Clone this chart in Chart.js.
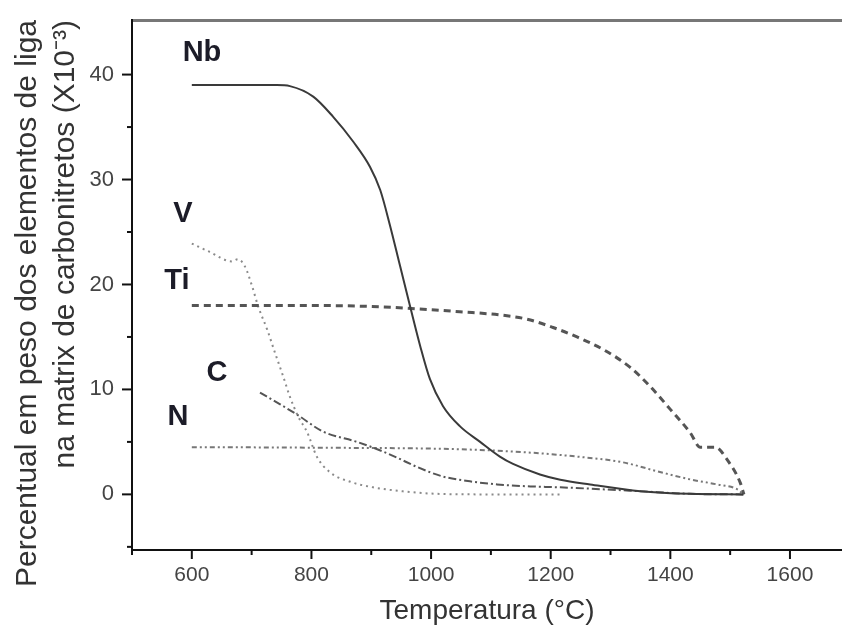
<!DOCTYPE html>
<html>
<head>
<meta charset="utf-8">
<script src="https://cdn.jsdelivr.net/npm/chart.js@4.4.1/dist/chart.umd.min.js"></script>
<style>
  html, body { margin: 0; padding: 0; background: #fff; }
  #chart { display: block; }
</style>
</head>
<body>
<canvas id="chart" width="842" height="634"></canvas>
<script>
// temperatures (°C) and contents (x10^-3)
var nbTemp = [600, 742, 764, 803, 836, 870, 898, 915, 931, 948, 965, 982, 998, 1020, 1048, 1082, 1115, 1137, 1182, 1216, 1266, 1350, 1433, 1522];
var nbVal  = [39, 39, 38.9, 37.9, 36.0, 33.6, 31.2, 29.0, 25.7, 21.8, 17.9, 14.1, 11.0, 8.4, 6.5, 5.0, 3.6, 2.9, 1.9, 1.4, 0.95, 0.3, 0.05, 0];

var tiTemp = [600, 800, 900, 1000, 1048, 1115, 1160, 1204, 1244, 1288, 1333, 1366, 1400, 1433, 1450, 1475, 1495, 1517, 1523];
var tiVal  = [18.0, 18.0, 17.9, 17.6, 17.4, 17.1, 16.7, 15.9, 15.0, 13.8, 12.1, 10.3, 8.1, 5.9, 4.5, 4.5, 3.3, 1.1, 0];

var vTemp = [600, 630, 667, 677, 689, 701, 711, 726, 739, 753, 764, 778, 793, 809, 831, 865, 903, 953, 1010, 1082, 1216];
var vVal  = [23.9, 23.1, 22.2, 22.4, 21.7, 19.8, 17.9, 15.7, 13.5, 11.2, 9.3, 7.4, 5.9, 3.6, 2.1, 1.2, 0.67, 0.29, 0.05, 0, 0];

var cTemp = [714, 747, 776, 819, 876, 910, 943, 977, 1020, 1065, 1110, 1166, 1216, 1350, 1433, 1522];
var cVal  = [9.7, 8.6, 7.6, 6.0, 5.0, 4.3, 3.5, 2.6, 1.7, 1.24, 0.95, 0.76, 0.67, 0.3, 0.05, 0];

var nTemp = [600, 800, 1048, 1160, 1244, 1321, 1378, 1433, 1478, 1512, 1522];
var nVal  = [4.5, 4.45, 4.3, 4.0, 3.6, 3.05, 2.2, 1.43, 0.95, 0.48, 0];

var xTicks = [500, 600, 700, 800, 900, 1000, 1100, 1200, 1300, 1400, 1500, 1600];
var yTicks = [-5, 0, 5, 10, 15, 20, 25, 30, 35, 40];

var elementNames = ["Nb", "V", "Ti", "C", "N"];
var labelTemp = [617, 585, 575, 642, 577];
var labelVal  = [42.1, 26.7, 20.3, 11.6, 7.4];

function toPoints(xs, ys) {
    return xs.map(function (x, i) { return { x: x, y: ys[i] }; });
}

// short/long tick marks drawn on the chart's own scales
var tickMarks = {
    id: "tickMarks",
    afterDraw: function (chart) {
        var ctx = chart.ctx, x = chart.scales.x, y = chart.scales.y;
        ctx.save();
        ctx.strokeStyle = "#111";
        ctx.lineWidth = 2;
        xTicks.forEach(function (v) {
            var px = x.getPixelForValue(v);
            var len = v % 200 === 0 ? 9 : 5;
            ctx.beginPath(); ctx.moveTo(px, x.top); ctx.lineTo(px, x.top + len); ctx.stroke();
        });
        yTicks.forEach(function (v) {
            var py = y.getPixelForValue(v);
            var len = v % 10 === 0 ? 10 : 5;
            ctx.beginPath(); ctx.moveTo(y.right, py); ctx.lineTo(y.right - len, py); ctx.stroke();
        });
        ctx.restore();
    }
};

// element names next to the curves
var elementLabels = {
    id: "elementLabels",
    afterDatasetsDraw: function (chart) {
        var ctx = chart.ctx, x = chart.scales.x, y = chart.scales.y;
        ctx.save();
        ctx.font = "bold 29px 'Liberation Sans', Arial, sans-serif";
        ctx.fillStyle = "#1c1c28";
        ctx.textAlign = "center";
        ctx.textBaseline = "middle";
        elementNames.forEach(function (name, i) {
            ctx.fillText(name, x.getPixelForValue(labelTemp[i]), y.getPixelForValue(labelVal[i]));
        });
        ctx.restore();
    }
};

var line = function (label, xs, ys, color, width, dash) {
    return {
        label: label,
        data: toPoints(xs, ys),
        showLine: true,
        borderColor: color,
        borderWidth: width,
        borderDash: dash,
        pointRadius: 0,
        fill: false,
        cubicInterpolationMode: "monotone"
    };
};

var ctx = document.getElementById("chart").getContext("2d");
var myChart = new Chart(ctx, {
    type: "scatter",
    data: {
        datasets: [
            line("Nb", nbTemp, nbVal, "#3a3a3a", 2, []),
            line("Ti", tiTemp, tiVal, "#555", 3, [7, 5]),
            line("V", vTemp, vVal, "#8a8a8a", 2, [2, 4]),
            line("C", cTemp, cVal, "#555", 2, [8, 3, 2, 3]),
            line("N", nTemp, nVal, "#777", 2, [5, 3, 2, 3, 2, 3])
        ]
    },
    options: {
        responsive: false,
        devicePixelRatio: 1,
        animation: false,
        layout: { padding: { top: 20, right: 0, bottom: 0, left: 0 } },
        plugins: {
            legend: { display: false },
            tooltip: { enabled: false }
        },
        scales: {
            x: {
                type: "linear",
                position: "bottom",
                min: 500,
                max: 1687,
                afterBuildTicks: function (s) { s.ticks = xTicks.map(function (v) { return { value: v }; }); },
                afterFit: function (s) { s.height = 84; s.paddingLeft = 0; s.paddingRight = 0; },
                grid: { display: false, drawTicks: false },
                border: { display: true, color: "#111", width: 2 },
                ticks: {
                    padding: 13,
                    color: "#444",
                    font: { family: "'Liberation Sans', Arial, sans-serif", size: 21 },
                    callback: function (v) { return v % 200 === 0 ? v : ""; }
                },
                title: {
                    display: true,
                    text: "Temperatura (°C)",
                    color: "#333",
                    font: { family: "'Liberation Sans', Arial, sans-serif", size: 28, lineHeight: 1.2 },
                    padding: { top: 0, bottom: 6 }
                }
            },
            x2: {
                type: "linear",
                position: "top",
                min: 500,
                max: 1687,
                afterFit: function (s) { s.height = 0; s.paddingLeft = 0; s.paddingRight = 0; },
                grid: { display: false, drawTicks: false },
                border: { display: true, color: "#777", width: 3 },
                ticks: { display: false }
            },
            y: {
                type: "linear",
                min: -5.3,
                max: 45.2,
                afterBuildTicks: function (s) { s.ticks = yTicks.map(function (v) { return { value: v }; }); },
                afterFit: function (s) { s.width = 132; s.paddingTop = 0; s.paddingBottom = 0; },
                grid: { display: false, drawTicks: false },
                border: { display: true, color: "#111", width: 2 },
                ticks: {
                    padding: 18,
                    color: "#444",
                    font: { family: "'Liberation Sans', Arial, sans-serif", size: 22 },
                    callback: function (v) { return v % 10 === 0 ? v : ""; }
                },
                title: {
                    display: true,
                    align: "end",
                    text: ["Percentual em peso dos elementos de liga", "na matrix de carbonitretos (X10⁻³)"],
                    color: "#333",
                    font: { family: "'Liberation Sans', Arial, sans-serif", size: 30, lineHeight: 1.25 },
                    padding: { top: 9, bottom: 0 }
                }
            }
        }
    },
    plugins: [tickMarks, elementLabels]
});
</script>
</body>
</html>
